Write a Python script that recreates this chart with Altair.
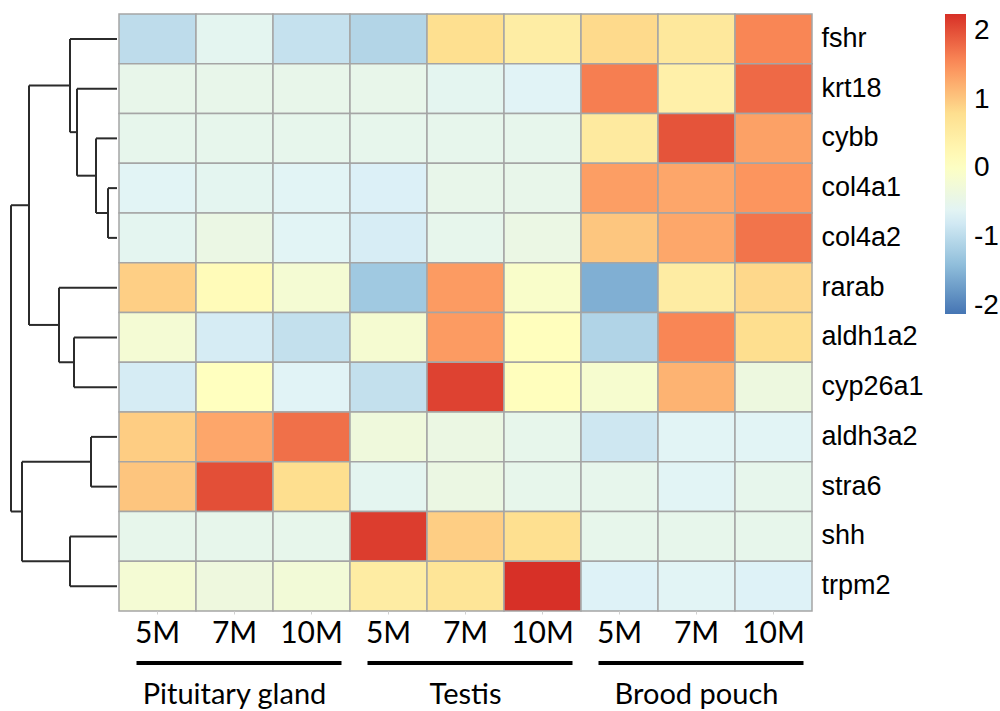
import altair as alt
import numpy as np
import pandas as pd

# ---- expression matrix (row-scaled z-scores) ----
genes = ["fshr", "krt18", "cybb", "col4a1", "col4a2", "rarab",
         "aldh1a2", "cyp26a1", "aldh3a2", "stra6", "shh", "trpm2"]
tissues = ["Pituitary gland", "Testis", "Brood pouch"]
ages = ["5M", "7M", "10M"]

# columns: Pituitary 5M/7M/10M, Testis 5M/7M/10M, Brood pouch 5M/7M/10M
fshr    = [-0.98, -0.56, -0.91, -1.08, 0.79, 0.49, 0.85, 0.60, 1.58]
krt18   = [-0.48, -0.48, -0.48, -0.48, -0.56, -0.64, 1.64, 0.41, 1.80]
cybb    = [-0.51, -0.51, -0.51, -0.51, -0.51, -0.51, 0.56, 1.97, 1.35]
col4a1  = [-0.62, -0.56, -0.62, -0.70, -0.48, -0.48, 1.37, 1.30, 1.45]
col4a2  = [-0.56, -0.41, -0.62, -0.75, -0.51, -0.41, 1.02, 1.29, 1.72]
rarab   = [0.94, 0.16, -0.19, -1.25, 1.40, -0.08, -1.55, 0.50, 0.86]
aldh1a2 = [-0.20, -0.76, -0.93, -0.16, 1.40, 0.10, -1.10, 1.58, 0.80]
cyp26a1 = [-0.76, 0.06, -0.64, -0.93, 2.11, 0.10, -0.14, 1.19, -0.35]
aldh3a2 = [0.96, 1.30, 1.75, -0.30, -0.40, -0.50, -0.83, -0.62, -0.62]
stra6   = [1.03, 2.01, 0.80, -0.56, -0.40, -0.50, -0.51, -0.62, -0.51]
shh     = [-0.50, -0.50, -0.50, 2.15, 0.95, 0.79, -0.50, -0.50, -0.50]
trpm2   = [-0.20, -0.33, -0.24, 0.50, 0.68, 2.25, -0.68, -0.62, -0.68]
matrix_rows = [fshr, krt18, cybb, col4a1, col4a2, rarab,
               aldh1a2, cyp26a1, aldh3a2, stra6, shh, trpm2]

# ---- row clustering: (left, right, height); integers point to earlier merges ----
merges = [
    ("col4a1", "col4a2", 9),
    ("cybb", 0, 21),
    ("krt18", 1, 40),
    ("fshr", 2, 47),
    ("aldh1a2", "cyp26a1", 43),
    ("rarab", 4, 58),
    (3, 5, 88),
    ("aldh3a2", "stra6", 26),
    ("shh", "trpm2", 47),
    (7, 8, 95),
    (6, 9, 106),
]

col_ids = [f"{t}|{a}" for t in tissues for a in ages]

cells = pd.DataFrame(
    [{"gene": g, "col": c, "value": v}
     for g, row in zip(genes, matrix_rows)
     for c, v in zip(col_ids, row)]
)

# dendrogram segments in (height, leaf position) space
def node_pos(node, placed):
    if isinstance(node, str):
        return genes.index(node) + 0.5, 0.0
    return placed[node]

segs = []
placed = []
for left, right, h in merges:
    yl, hl = node_pos(left, placed)
    yr, hr = node_pos(right, placed)
    segs.append({"x0": h, "x1": h, "y0": yl, "y1": yr})
    segs.append({"x0": hl, "x1": h, "y0": yl, "y1": yl})
    segs.append({"x0": hr, "x1": h, "y0": yr, "y1": yr})
    placed.append(((yl + yr) / 2, h))
dendro_df = pd.DataFrame(segs)

groups_df = pd.DataFrame({
    "tissue": tissues,
    "col": [f"{t}|{ages[0]}" for t in tissues],
    "col_end": [f"{t}|{ages[-1]}" for t in tissues],
    "col_mid": [f"{t}|{ages[1]}" for t in tissues],
})

PLOT_W, PLOT_H = 693, 597
DENDRO_W = 107

palette = ["#4575B4", "#91BFDB", "#E0F3F8", "#FFFFBF", "#FEE090", "#FC8D59", "#D73027"]
vmin, vmax = -2.12, 2.25
stops = list(np.round(np.linspace(vmin, vmax, len(palette)), 4))

col_scale = alt.Scale(domain=col_ids)

dendro = alt.Chart(dendro_df).mark_rule(color="#2b2b2b", strokeWidth=2).encode(
    x=alt.X("x0:Q", scale=alt.Scale(domain=[DENDRO_W, 0], nice=False, zero=False), axis=None),
    x2="x1:Q",
    y=alt.Y("y0:Q", scale=alt.Scale(domain=[0, len(genes)], reverse=True, nice=False, zero=False), axis=None),
    y2="y1:Q",
).properties(width=DENDRO_W, height=PLOT_H)

heat = alt.Chart(cells).mark_rect(stroke="#a5a5a5", strokeWidth=1.5).encode(
    x=alt.X("col:N", scale=col_scale, title=None,
            axis=alt.Axis(orient="bottom", labelExpr="split(datum.label, '|')[1]",
                          labelAngle=0, labelFont="Lato", labelFontSize=30,
                          labelColor="black", labelPadding=4, tickSize=3,
                          tickColor="#d0d0d0", domain=False)),
    y=alt.Y("gene:N", scale=alt.Scale(domain=genes), title=None,
            axis=alt.Axis(orient="right", labelFont="Liberation Sans", labelFontSize=27,
                          labelColor="black", labelPadding=9, ticks=False, domain=False)),
    color=alt.Color("value:Q",
                    scale=alt.Scale(domain=stops, range=palette, interpolate="rgb"),
                    legend=alt.Legend(title=None, orient="none", legendX=935, legendY=0,
                                      direction="vertical", gradientLength=300,
                                      gradientThickness=21, gradientStrokeWidth=0,
                                      values=[-2, -1, 0, 1, 2],
                                      labelExpr="datum.value < 0 ? '-' + abs(datum.value) : '' + datum.value",
                                      labelFont="Liberation Sans",
                                      labelFontSize=28, labelColor="black", labelOffset=8)),
)

group_lines = alt.Chart(groups_df).mark_rule(
    color="black", strokeWidth=4, xOffset=-21, x2Offset=30
).encode(
    x=alt.X("col:N", scale=col_scale),
    x2="col_end:N",
    y=alt.value(649),
)

group_text = alt.Chart(groups_df).mark_text(
    font="Lato", fontSize=29, color="black", baseline="middle"
).encode(
    x=alt.X("col_mid:N", scale=col_scale),
    y=alt.value(681),
    text="tissue:N",
)

heat_panel = alt.layer(heat, group_lines, group_text).properties(width=PLOT_W, height=PLOT_H)

chart = alt.hconcat(dendro, heat_panel, spacing=0).properties(
    padding={"left": 10, "top": 13, "right": 0, "bottom": 0},
    background="white",
).configure_view(stroke=None)

chart.save("out.html", embed_options={"renderer": "svg", "actions": False})
